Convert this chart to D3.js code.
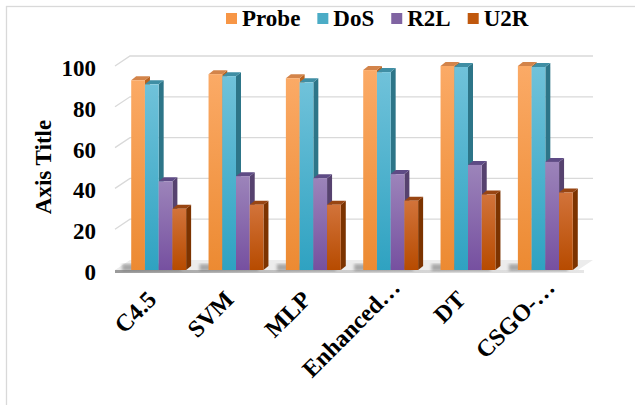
<!DOCTYPE html>
<html lang="en">
<head>
    <meta charset="UTF-8">
    <script src="https://cdnjs.cloudflare.com/ajax/libs/d3/7.8.5/d3.min.js"></script>
    <style>
        body { margin: 0; background: white; }
    </style>
</head>
<body>
<svg id="chart" width="635" height="405"></svg>
<script>
    // data
    const categories = ["C4.5", "SVM", "MLP", "Enhanced…", "DT", "CSGO-…"];
    const series = ["Probe", "DoS", "R2L", "U2R"];
    const probe = [93, 96, 94, 98, 100, 100];
    const dos = [91, 95, 92, 97, 99.5, 99.5];
    const r2l = [43.5, 46, 45, 47, 51.5, 53];
    const u2r = [30, 32, 32, 34, 37, 38];
    const yTicks = [0, 20, 40, 60, 80, 100];

    const values = [probe, dos, r2l, u2r];
    const data = categories.map((c, i) => ({
        cat: c,
        vals: series.map((s, j) => ({ key: s, value: values[j][i] }))
    }));

    const serif = "'Liberation Serif', 'Times New Roman', 'DejaVu Serif', serif";

    // colours: front top, front bottom, side, top, legend
    const palette = {
        Probe: { hi: "#fbaa66", lo: "#ec8a32", side: "#b9631f", top: "#d3844a", key: "#f79646" },
        DoS:   { hi: "#70c2da", lo: "#2fa2c1", side: "#2d7588", top: "#3f8ea4", key: "#4bacc6" },
        R2L:   { hi: "#9c84ba", lo: "#7650a0", side: "#56426f", top: "#5e4b85", key: "#8064a2" },
        U2R:   { hi: "#d2733a", lo: "#b74b00", side: "#7c3300", top: "#984512", key: "#c0580d" }
    };

    const svg = d3.select("#chart");
    const defs = svg.append("defs");

    series.forEach(s => {
        const g = defs.append("linearGradient")
            .attr("id", "grad-" + s)
            .attr("x1", 0).attr("y1", 0).attr("x2", 0).attr("y2", 1);
        g.append("stop").attr("offset", "0%").attr("stop-color", palette[s].hi);
        g.append("stop").attr("offset", "100%").attr("stop-color", palette[s].lo);
    });

    const floorGrad = defs.append("linearGradient")
        .attr("id", "floorGrad")
        .attr("x1", 0).attr("y1", 0).attr("x2", 1).attr("y2", 0);
    floorGrad.append("stop").attr("offset", "0%").attr("stop-color", "#9a9a9a");
    floorGrad.append("stop").attr("offset", "40%").attr("stop-color", "#c8c8c8");
    floorGrad.append("stop").attr("offset", "100%").attr("stop-color", "#e6e6e6");

    defs.append("filter").attr("id", "blur")
        .append("feGaussianBlur").attr("stdDeviation", 1.5);

    // outer chart border
    svg.append("rect")
        .attr("x", 6.5).attr("y", 6.5)
        .attr("width", 660).attr("height", 420)
        .attr("fill", "none")
        .attr("stroke", "#d9d9d9")
        .attr("stroke-width", 1.3);

    const x0 = d3.scaleBand()
        .domain(categories)
        .range([120, 584])
        .paddingInner(0.29)
        .paddingOuter(0.145);

    const x1 = d3.scaleBand()
        .domain(series)
        .range([0, x0.bandwidth()]);

    const y = d3.scaleLinear()
        .domain([0, 100])
        .range([270, 66]);

    // 3d offsets
    const wall = { dx: 15, dy: -10, left: 115, right: 578 };
    const depth = { dx: 5, dy: -4 };

    // gridlines on side + back wall
    svg.append("g")
        .selectAll("polyline")
        .data(yTicks.slice(1))
        .enter()
        .append("polyline")
        .attr("points", d => [
            [wall.left, y(d)],
            [wall.left + wall.dx, y(d) + wall.dy],
            [wall.right + wall.dx, y(d) + wall.dy]
        ].join(" "))
        .attr("fill", "none")
        .attr("stroke", "#d9d9d9")
        .attr("stroke-width", 1.3);

    // floor
    const y0 = y(0);
    svg.append("polygon")
        .attr("points", [
            [wall.left, y0], [wall.right, y0],
            [wall.right + wall.dx, y0 + wall.dy], [wall.left + wall.dx, y0 + wall.dy]
        ].join(" "))
        .attr("fill", "#ececec");
    svg.append("rect")
        .attr("x", wall.left)
        .attr("y", y0)
        .attr("width", wall.right - wall.left + 6)
        .attr("height", 3)
        .attr("fill", "url(#floorGrad)");

    // shadows to the left of each cluster
    svg.append("g")
        .selectAll("rect")
        .data(data)
        .enter()
        .append("rect")
        .attr("x", d => x0(d.cat) - 9)
        .attr("y", y0 - 6)
        .attr("width", x0.bandwidth() + 4)
        .attr("height", 7)
        .attr("fill", "#6f6f6f")
        .attr("opacity", 0.55)
        .attr("filter", "url(#blur)");

    // bars
    const groups = svg.append("g")
        .selectAll("g")
        .data(data)
        .enter()
        .append("g")
        .attr("transform", d => `translate(${x0(d.cat)},0)`);

    const bars = groups.selectAll("g.bar")
        .data(d => d.vals)
        .enter()
        .append("g")
        .attr("class", "bar");

    const bw = x1.bandwidth();

    bars.append("polygon") // side
        .attr("points", d => {
            const xr = x1(d.key) + bw;
            return [[xr, y(d.value)], [xr + depth.dx, y(d.value) + depth.dy],
                [xr + depth.dx, y0 + depth.dy], [xr, y0]].join(" ");
        })
        .attr("fill", d => palette[d.key].side);

    bars.append("polygon") // top
        .attr("points", d => {
            const xl = x1(d.key);
            const yt = y(d.value);
            return [[xl, yt], [xl + bw, yt], [xl + bw + depth.dx, yt + depth.dy],
                [xl + depth.dx, yt + depth.dy]].join(" ");
        })
        .attr("fill", d => palette[d.key].top);

    bars.append("rect") // front
        .attr("x", d => x1(d.key))
        .attr("y", d => y(d.value))
        .attr("width", bw)
        .attr("height", d => y0 - y(d.value))
        .attr("fill", d => `url(#grad-${d.key})`);

    // y axis labels
    svg.append("g")
        .selectAll("text")
        .data(yTicks)
        .enter()
        .append("text")
        .attr("x", 96)
        .attr("y", d => y(d) + 10)
        .attr("text-anchor", "end")
        .text(d => d);

    svg.append("text")
        .attr("transform", "translate(51,167) rotate(-90)")
        .attr("text-anchor", "middle")
        .text("Axis Title");

    // legend
    const legend = svg.append("g").attr("transform", "translate(226,0)");
    let lx = 0;
    series.forEach(s => {
        const item = legend.append("g").attr("transform", `translate(${lx},0)`);
        item.append("rect")
            .attr("x", 0).attr("y", 13)
            .attr("width", 11).attr("height", 11)
            .attr("fill", palette[s].key);
        const t = item.append("text")
            .attr("x", 16).attr("y", 26)
            .attr("font-family", serif)
            .attr("font-weight", "bold")
            .attr("font-size", 23)
            .text(s);
        lx += 16 + t.node().getComputedTextLength() + 17;
    });

    svg.selectAll("text")
        .attr("font-family", serif)
        .attr("font-weight", "bold")
        .attr("font-size", 23)
        .attr("fill", "#000");

    // category labels
    svg.append("g")
        .selectAll("text")
        .data(categories)
        .enter()
        .append("text")
        .attr("transform", d => `translate(${x0(d) + x0.bandwidth() / 2 - 1},301) rotate(-45)`)
        .attr("text-anchor", "end")
        .attr("dx", d => d.endsWith("…") ? "0.7em" : 0)
        .attr("font-family", serif)
        .attr("font-weight", "bold")
        .attr("font-size", 24)
        .attr("fill", "#000")
        .text(d => d);
</script>
</body>
</html>
